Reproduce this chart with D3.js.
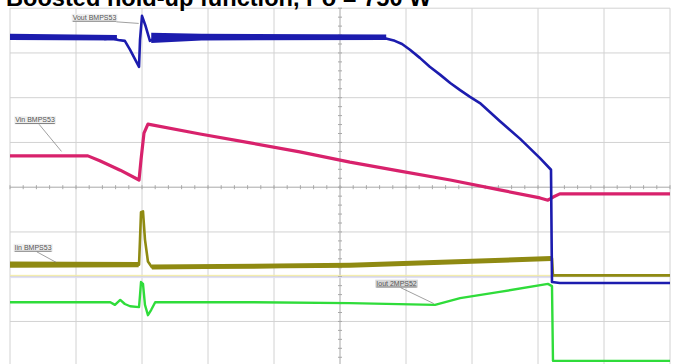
<!DOCTYPE html>
<html>
<head>
<meta charset="utf-8">
<script src="https://cdn.jsdelivr.net/npm/d3@7"></script>
<style>
    body { margin: 0; background: #fff; }
    svg { display: block; font-family: 'Liberation Sans', Arial, sans-serif; }
</style>
</head>
<body>
<div id="chart"></div>
<script>
'use strict';

// Time in divisions (0..10), amplitude in divisions (-4..4, centre = 0)
const voutTrace = [[0, 3.36], [1.36, 3.36], [1.44, 3.31], [1.55, 3.33], [1.64, 3.29], [1.74, 3.27], [1.82, 3.07],
    [1.955, 2.69], [1.97, 3.29], [2.0, 3.83], [2.05, 3.62], [2.12, 3.27], [2.2, 3.33], [2.42, 3.36], [5.68, 3.33],
    [5.83, 3.27], [5.94, 3.2], [6.06, 3.07], [6.21, 2.89], [6.36, 2.69], [6.52, 2.51], [6.67, 2.33], [6.82, 2.17],
    [6.97, 2.02], [7.12, 1.88], [7.42, 1.48], [7.73, 1.08], [8.03, 0.65], [8.197, 0.39], [8.212, -2.12],
    [8.33, -2.14], [10, -2.14]];
const vinTrace = [[0, 0.7], [1.18, 0.7], [1.36, 0.59], [1.67, 0.38], [1.955, 0.16], [1.985, 0.61], [2.03, 1.21],
    [2.09, 1.41], [2.88, 1.19], [3.64, 0.99], [4.39, 0.79], [5.15, 0.56], [5.91, 0.36], [6.67, 0.16],
    [7.42, -0.06], [8.03, -0.24], [8.15, -0.29], [8.23, -0.22], [8.33, -0.15], [10, -0.15]];
const iinTrace = [[0, -1.73], [1.955, -1.73], [1.97, -1.17], [1.985, -0.56], [2.015, -0.54], [2.045, -1.17],
    [2.09, -1.66], [2.15, -1.79], [3.64, -1.79], [5.15, -1.75], [6.67, -1.68], [8.212, -1.59], [8.227, -1.97],
    [10, -1.97]];
const ioutTrace = [[0, -2.57], [1.52, -2.57], [1.59, -2.63], [1.67, -2.52], [1.74, -2.61], [1.82, -2.66],
    [1.955, -2.68], [1.97, -2.41], [1.985, -2.12], [2.015, -2.16], [2.045, -2.63], [2.09, -2.86], [2.14, -2.74],
    [2.2, -2.57], [3.64, -2.57], [5.15, -2.59], [6.44, -2.63], [6.82, -2.48], [7.42, -2.34], [8.15, -2.16],
    [8.212, -2.21], [8.227, -3.88], [10, -3.88]];

// Noise envelopes of the thick parts [t, low, high], one array per stretch
const voutBandPre = [[0, 3.29, 3.43], [1.62, 3.28, 3.4]];
const voutBandPost = [[2.14, 3.22, 3.45], [2.9, 3.28, 3.43], [5.7, 3.29, 3.41]];
const iinBandPre = [[0, -1.8, -1.66], [1.95, -1.79, -1.67]];
const iinBandPost = [[2.15, -1.84, -1.73], [5.15, -1.8, -1.69], [8.2, -1.65, -1.54]];

const series = ['Vout', 'Vin', 'Iin', 'Iout'];
const seriesLabels = ['Vout BMPS53', 'Vin BMPS53', 'Iin BMPS53', 'Iout 2MPS52'];
const title = 'Boosted hold-up function, Po = 750 W';

class Scope {

    w = 674;
    h = 364;

    constructor(_ref) {
        this.parent = _ref;
        this.initVis();
    }

    initVis() {
        const vis = this;

        vis.svg = d3.select(`#${vis.parent}`)
            .append('svg')
            .attr('width', vis.w)
            .attr('height', vis.h);

        // Scales in scope divisions
        vis.x = d3.scaleLinear().domain([0, 10]).range([10, 670]);
        vis.y = d3.scaleLinear().domain([-4, 4]).range([366.2, 8.2]);

        vis.buildGrid();
        vis.buildTraces();
        vis.buildLabels();

        // Title, cut off at the top as in the source picture
        vis.svg.append('text')
            .attr('x', 6)
            .attr('y', 6)
            .attr('font-size', 23.6)
            .attr('font-weight', 'bold')
            .attr('fill', '#000')
            .text(title);
    }

    buildGrid() {
        const vis = this;
        const g = vis.svg.append('g').attr('class', 'grid');

        g.selectAll('.vline')
            .data(d3.range(0, 11))
            .join('line')
            .attr('x1', d => vis.x(d)).attr('x2', d => vis.x(d))
            .attr('y1', vis.y(4)).attr('y2', vis.y(-4))
            .attr('stroke', d => d === 5 ? '#a8a8a8' : '#d2d2d2')
            .attr('stroke-width', 1);

        g.selectAll('.hline')
            .data(d3.range(-4, 5))
            .join('line')
            .attr('x1', vis.x(0)).attr('x2', vis.x(10))
            .attr('y1', d => vis.y(d)).attr('y2', d => vis.y(d))
            .attr('stroke', d => d === 0 ? '#a8a8a8' : '#d2d2d2')
            .attr('stroke-width', 1);

        // Minor ticks on centre lines
        g.selectAll('.xtick')
            .data(d3.range(0, 10.01, 0.2))
            .join('line')
            .attr('x1', d => vis.x(d)).attr('x2', d => vis.x(d))
            .attr('y1', vis.y(0) - 2).attr('y2', vis.y(0) + 2)
            .attr('stroke', '#a8a8a8');
        g.selectAll('.ytick')
            .data(d3.range(-4, 4.01, 0.2))
            .join('line')
            .attr('x1', vis.x(5) - 2).attr('x2', vis.x(5) + 2)
            .attr('y1', d => vis.y(d)).attr('y2', d => vis.y(d))
            .attr('stroke', '#a8a8a8');

        // Faint channel reference lines
        g.append('line')
            .attr('x1', vis.x(0)).attr('x2', vis.x(8.2))
            .attr('y1', vis.y(-1.97)).attr('y2', vis.y(-1.97))
            .attr('stroke', '#f2eaa0');
        g.append('line')
            .attr('x1', vis.x(0)).attr('x2', vis.x(8.2))
            .attr('y1', vis.y(-2.02)).attr('y2', vis.y(-2.02))
            .attr('stroke', '#dcdcf4');
    }

    buildTraces() {
        const vis = this;
        const line = d3.line().x(d => vis.x(d[0])).y(d => vis.y(d[1]));
        const area = d3.area().x(d => vis.x(d[0])).y0(d => vis.y(d[1])).y1(d => vis.y(d[2]));
        const g = vis.svg.append('g').attr('class', 'traces');

        const traces = [
            {name: series[3], data: ioutTrace, color: '#2fdc3a', width: 2.4, bands: []},
            {name: series[2], data: iinTrace, color: '#8f8a12', width: 2.6, bands: [iinBandPre, iinBandPost]},
            {name: series[1], data: vinTrace, color: '#d8226c', width: 3.2, bands: []},
            {name: series[0], data: voutTrace, color: '#1c1cae', width: 2.6, bands: [voutBandPre, voutBandPost]}
        ];

        traces.forEach(tr => {
            tr.bands.forEach(b => {
                g.append('path')
                    .datum(b)
                    .attr('d', area)
                    .attr('fill', tr.color);
            });
            g.append('path')
                .datum(tr.data)
                .attr('class', `trace ${tr.name}`)
                .attr('d', line)
                .attr('fill', 'none')
                .attr('stroke', tr.color)
                .attr('stroke-width', tr.width)
                .attr('stroke-linejoin', 'round');
        });
    }

    buildLabels() {
        const vis = this;
        // [label index, text x, text y, leader end x, leader end y] in divisions
        const spots = [
            [0, 0.95, 3.74, 1.95, 3.66],
            [1, 0.08, 1.45, 0.78, 0.8],
            [2, 0.07, -1.4, 0.7, -1.68],
            [3, 5.55, -2.2, 6.42, -2.6]
        ];
        const g = vis.svg.append('g').attr('class', 'labels');

        spots.forEach(s => {
            const lx = vis.x(s[1]);
            const ly = vis.y(s[2]);
            const t = g.append('text')
                .attr('x', lx)
                .attr('y', ly)
                .attr('font-size', 7)
                .attr('fill', '#555')
                .attr('text-decoration', 'underline')
                .text(seriesLabels[s[0]]);
            const bb = t.node().getBBox();
            g.insert('rect', 'text')
                .attr('x', bb.x - 1).attr('y', bb.y)
                .attr('width', bb.width + 2).attr('height', bb.height + 1)
                .attr('fill', s[0] === 3 ? '#d8d8d8' : '#efefef');
            g.append('line')
                .attr('x1', s[0] === 0 ? bb.x + bb.width : lx + bb.width * 0.6)
                .attr('y1', ly + 2)
                .attr('x2', vis.x(s[3]))
                .attr('y2', vis.y(s[4]))
                .attr('stroke', '#777')
                .attr('stroke-width', 0.7);
        });
    }
}

new Scope('chart');
</script>
</body>
</html>
